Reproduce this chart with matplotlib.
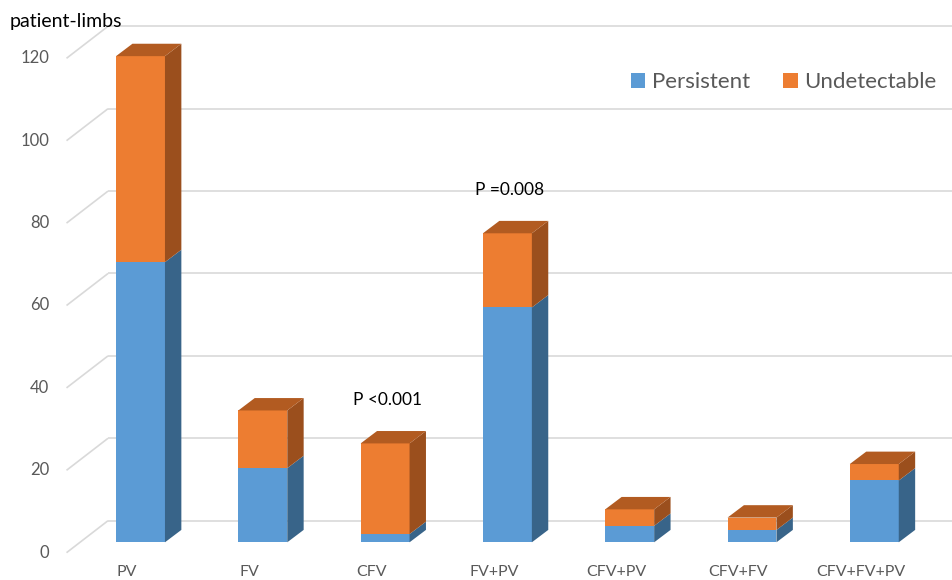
import matplotlib
matplotlib.use("Agg")
import matplotlib.pyplot as plt
from matplotlib.patches import Polygon, Patch

plt.rcParams['font.family'] = ['Lato', 'DejaVu Sans']

# ---- data -------------------------------------------------------------
categories = ["PV", "FV", "CFV", "FV+PV", "CFV+PV", "CFV+FV", "CFV+FV+PV"]
persistent = [68, 18, 2, 57, 4, 3, 15]
undetectable = [50, 14, 22, 18, 4, 3, 4]
y_ticks = [0, 20, 40, 60, 80, 100, 120]
series_names = ["Persistent", "Undetectable"]
p_labels = {2: "P <0.001", 3: "P =0.008"}

# ---- style ------------------------------------------------------------
front_cols = ["#5B9BD5", "#ED7D31"]
side_cols = ["#386489", "#9B4F1D"]
top_cols = ["#4A7FB0", "#B25B21"]
grid_col = "#D9D9D9"
text_grey = "#595959"

W, H, DPI = 953, 580, 100
fig = plt.figure(figsize=(W / DPI, H / DPI), dpi=DPI)
ax = fig.add_axes([0, 0, 1, 1])
ax.set_axis_off()

# projection: pixel scale per data unit
px_x = 122.3          # pixels per category step
px_y = 4.12           # pixels per value unit
x0_px, y0_px = 140.5, 542.3   # pixel position of category 0, value 0 (bar front)
ax.set_xlim(-x0_px / px_x, (W - x0_px) / px_x)
ax.set_ylim((y0_px - H) / px_y, y0_px / px_y)

# depth of the floor (full) and of the bars, in data units
floor_dx, floor_dy = 41.5 / px_x, 32.0 / px_y
bar_front_frac = 10.4 / 32.0
bar_dx, bar_dy = 16.4 / px_x, 12.4 / px_y
bar_w = 0.4

# floor front-left corner relative to the bar front plane
front_x = -0.605
front_dy = -bar_front_frac * floor_dy
back_x = front_x + floor_dx
back_dy = front_dy + floor_dy
x_right = ax.get_xlim()[1]

# back wall gridlines and the left wall diagonals
for t in y_ticks:
    ax.plot([front_x, back_x], [t + front_dy, t + back_dy], color=grid_col,
            lw=1.2, zorder=1, solid_capstyle="butt")
    ax.plot([back_x, x_right], [t + back_dy, t + back_dy], color=grid_col,
            lw=1.2, zorder=1, solid_capstyle="butt")
    ax.text(front_x - 17.5 / px_x, t + front_dy, str(t), ha="right", va="center",
            fontsize=12, color=text_grey)

# 3D-looking stacked columns
for i, cat in enumerate(categories):
    segs = [persistent[i], undetectable[i]]
    bottom = 0
    for s, h in enumerate(segs):
        ax.bar(i, h, bottom=bottom, width=bar_w, color=front_cols[s],
               linewidth=0, zorder=3)
        xr = i + bar_w / 2
        side = Polygon([(xr, bottom), (xr + bar_dx, bottom + bar_dy),
                        (xr + bar_dx, bottom + h + bar_dy), (xr, bottom + h)],
                       closed=True, facecolor=side_cols[s], edgecolor="none",
                       zorder=3)
        ax.add_patch(side)
        bottom += h
    xl = i - bar_w / 2
    top = Polygon([(xl, bottom), (xl + bar_dx, bottom + bar_dy),
                   (xl + bar_w + bar_dx, bottom + bar_dy), (xl + bar_w, bottom)],
                  closed=True, facecolor=top_cols[1], edgecolor="none", zorder=3)
    ax.add_patch(top)
    # category label centred at the front edge of the floor
    ax.text(i - bar_front_frac * floor_dx, front_dy - 19.5 / px_y, cat,
            ha="center", va="center", fontsize=11.5, color=text_grey)

# significance annotations above columns
for i, lab in p_labels.items():
    total = persistent[i] + undetectable[i]
    ax.text(i + 0.02, total + 10.5, lab, ha="center", va="center",
            fontsize=12.5, color="black")

# axis title
ax.text(10 / W, 1 - 22 / H, "patient-limbs", transform=ax.transAxes,
        ha="left", va="center", fontsize=14, color="black")

# legend
handles = [Patch(facecolor=c, edgecolor="none") for c in front_cols]
leg = ax.legend(handles, series_names, ncol=2, loc="center",
                bbox_to_anchor=(783.5 / W, 1 - 82 / H), frameon=False,
                fontsize=16, handlelength=0.65, handleheight=0.65,
                handletextpad=0.3, columnspacing=1.5, borderpad=0)
for txt in leg.get_texts():
    txt.set_color(text_grey)

fig.savefig("out.png", dpi=DPI)
